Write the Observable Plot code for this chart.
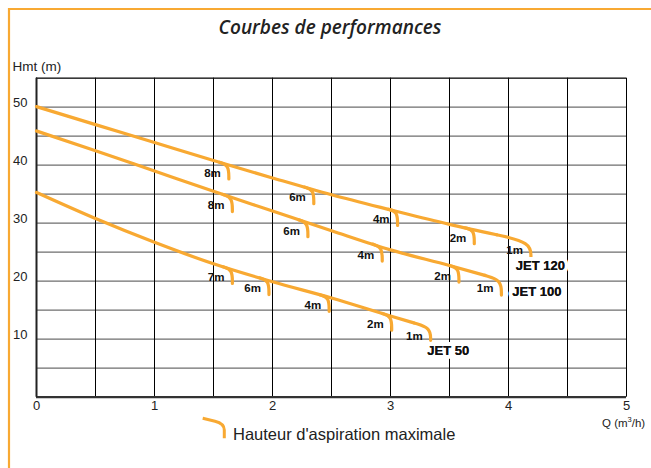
<!DOCTYPE html>
<html><head><meta charset="utf-8">
<script src="https://cdn.jsdelivr.net/npm/d3@7"></script>
<script src="https://cdn.jsdelivr.net/npm/@observablehq/plot@0.6"></script>
<style>
html,body{margin:0;padding:0;background:#fff;}
#chart{width:651px;height:468px;position:relative;}
svg{display:block;}
</style></head><body><div id="chart"></div>
<script>
// ---- data ----
const pumpNames = ["JET 120", "JET 100", "JET 50"];

const jet120Q = [0, 0.5, 1, 1.5, 2, 2.5, 3, 3.5, 3.9];
const jet120H = [50.1, 47.0, 43.9, 40.8, 37.8, 34.9, 32.3, 29.8, 28.0];
const jet100Q = [0, 0.5, 1, 1.5, 2, 2.5, 3, 3.5, 3.8];
const jet100H = [45.9, 42.5, 39.0, 35.5, 32.1, 28.7, 25.4, 22.7, 21.0];
const jet50Q  = [0, 0.5, 1, 1.5, 2, 2.5, 3, 3.2];
const jet50H  = [35.3, 30.8, 26.7, 23.0, 19.9, 17.1, 14.0, 12.8];

// maximum suction height markers (flow where the marker sits)
const jet120MarkQ = [1.63, 2.35, 3.06, 3.71];
const jet120MarkLabel = ["8m", "6m", "4m", "2m"];
const jet100MarkQ = [1.66, 2.30, 2.93, 3.58];
const jet100MarkLabel = ["8m", "6m", "4m", "2m"];
const jet50MarkQ = [1.66, 1.97, 2.48, 3.01];
const jet50MarkLabel = ["7m", "6m", "4m", "2m"];

// end of each curve (1 m suction): flow and lowest head of the end hook
const endQ = [4.19, 3.94, 3.34];
const endBottomH = [24.1, 17.6, 9.8];
const endLabel = ["1m", "1m", "1m"];

// pump name labels (flow, head)
const nameQ = [4.27, 4.24, 3.49];
const nameH = [22.7, 18.1, 8.0];

const xTicks = [0, 1, 2, 3, 4, 5];
const yTicks = [10, 20, 30, 40, 50];
const xGrid = d3.range(0, 5.01, 0.5);
const yGrid = d3.range(0, 55.01, 5);

// ---- build tables ----
const ORANGE = "#F8A932";
const FONT = "'Liberation Sans', Arial, sans-serif";
const series = [
  {name: pumpNames[0], Q: jet120Q, H: jet120H, mq: jet120MarkQ, ml: jet120MarkLabel},
  {name: pumpNames[1], Q: jet100Q, H: jet100H, mq: jet100MarkQ, ml: jet100MarkLabel},
  {name: pumpNames[2], Q: jet50Q,  H: jet50H,  mq: jet50MarkQ,  ml: jet50MarkLabel}
];
const curveRows = [];
const hookRows = [];
const markLabels = [];
const nameLabels = [];
const HOOK_DEPTH = 2.4, HOOK_LEAD = 0.08;
series.forEach((s, i) => {
  s.Q.forEach((q, j) => curveRows.push({pump: s.name, q, h: s.H[j]}));
  const hc = d3.scaleLinear().domain(s.Q).range(s.H);
  s.mq.forEach((q, j) => {
    const id = s.name + "-" + j;
    const h = hc(q);
    hookRows.push({id, q: q - HOOK_LEAD, h: hc(q - HOOK_LEAD)});
    hookRows.push({id, q, h});
    hookRows.push({id, q, h: h - HOOK_DEPTH});
    markLabels.push({q, h, text: s.ml[j]});
  });
  // end hook
  const n = s.Q.length;
  const q0 = s.Q[n - 1], h0 = s.H[n - 1];
  const slope = (s.H[n - 1] - s.H[n - 2]) / (s.Q[n - 1] - s.Q[n - 2]);
  const h1 = h0 + slope * (endQ[i] - q0);
  const id = s.name + "-end";
  hookRows.push({id, q: q0, h: h0});
  hookRows.push({id, q: endQ[i], h: h1});
  hookRows.push({id, q: endQ[i], h: endBottomH[i]});
  markLabels.push({q: endQ[i], h: h1, text: endLabel[i]});
  nameLabels.push({q: nameQ[i], h: nameH[i], text: s.name});
});

const plot = Plot.plot({
  width: 651,
  height: 468,
  marginLeft: 36,
  marginRight: 25,
  marginTop: 77.7,
  marginBottom: 71.3,
  style: {fontFamily: FONT, fontSize: "13px", color: "#222", background: "white"},
  x: {domain: [0, 5]},
  y: {domain: [0, 55]},
  marks: [
    Plot.ruleY(yGrid, {stroke: "#6e6e6e", strokeWidth: 1.3}),
    Plot.ruleX(xGrid, {stroke: "#000", strokeWidth: 1}),
    Plot.ruleY([55], {stroke: "#111", strokeWidth: 1}),
    Plot.ruleY([0], {stroke: "#333", strokeWidth: 2.2}),
    Plot.ruleX([0], {stroke: "#222", strokeWidth: 2}),
    Plot.line(curveRows, {x: "q", y: "h", z: "pump", stroke: ORANGE, strokeWidth: 3.2, curve: "monotone-x"}),
    Plot.line(hookRows, {x: "q", y: "h", z: "id", stroke: ORANGE, strokeWidth: 3.2, curve: "basis", strokeLinejoin: "round"}),
    Plot.text(markLabels, {x: "q", y: "h", text: "text", textAnchor: "end", dx: -8, dy: 8, fontWeight: "bold", fontSize: 11.5, fill: "#111"}),
    Plot.text(nameLabels, {x: "q", y: "h", text: "text", fontWeight: "bold", fontSize: 13, fill: "#111", stroke: "white", strokeWidth: 8}),
    Plot.text(nameLabels, {x: "q", y: "h", text: "text", fontWeight: "bold", fontSize: 13, fill: "#111"}),
    Plot.axisX({ticks: xTicks, tickFormat: d3.format("d"), tickSize: 0, tickPadding: 4, label: null, fontSize: 13}),
    Plot.axisY({ticks: yTicks, tickFormat: d3.format("d"), tickSize: 0, tickPadding: 9, dy: -4, label: null, fontSize: 13})
  ]
});
document.getElementById("chart").appendChild(plot);

// ---- decorations: frame, title, axis names, legend ----
const svg = d3.select(plot);
svg.append("line").attr("x1", 9).attr("x2", 651).attr("y1", 9).attr("y2", 9)
  .attr("stroke", ORANGE).attr("stroke-width", 2.2);
svg.append("line").attr("x1", 9).attr("x2", 9).attr("y1", 8).attr("y2", 468)
  .attr("stroke", ORANGE).attr("stroke-width", 2.2);
svg.append("text").attr("x", 330).attr("y", 27).attr("text-anchor", "middle")
  .attr("dominant-baseline", "central")
  .style("font-family", "'Open Sans', sans-serif").style("font-style", "italic")
  .style("font-weight", 600).style("font-size", "19px").attr("fill", "#222")
  .text("Courbes de performances");
svg.append("text").attr("x", 12.5).attr("y", 66.5).attr("text-anchor", "start")
  .attr("dominant-baseline", "central")
  .style("font-family", FONT).style("font-size", "13.5px").attr("fill", "#222")
  .text("Hmt (m)");
const q = svg.append("text").attr("x", 602).attr("y", 427).attr("text-anchor", "start")
  .style("font-family", FONT).style("font-size", "11.5px").attr("fill", "#222");
q.append("tspan").text("Q (m");
q.append("tspan").attr("dy", -5).style("font-size", "7.5px").text("3");
q.append("tspan").attr("dy", 5).text("/h)");
svg.append("path").attr("d", "M202.7,418.3 L215,421.2 Q224.3,423.5 224.3,430 L224.3,438.3")
  .attr("fill", "none").attr("stroke", ORANGE).attr("stroke-width", 3);
svg.append("text").attr("x", 233).attr("y", 434).attr("text-anchor", "start")
  .attr("dominant-baseline", "central")
  .style("font-family", FONT).style("font-size", "16.5px").attr("fill", "#222")
  .text("Hauteur d'aspiration maximale");
</script></body></html>
